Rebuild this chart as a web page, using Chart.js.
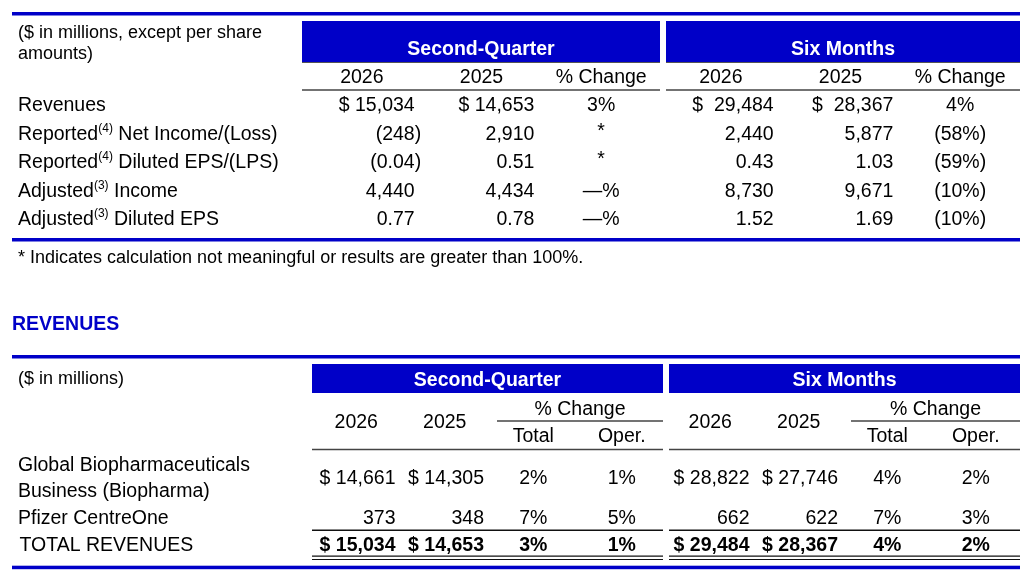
<!DOCTYPE html>
<html>
<head>
<meta charset="utf-8">
<script src="https://cdn.jsdelivr.net/npm/chart.js@4.4.1/dist/chart.umd.min.js"></script>
<style>
  html, body { margin: 0; padding: 0; background: #fff; }
  body { width: 1032px; height: 576px; position: relative; overflow: hidden; }
  .panel { position: absolute; left: 0; width: 1032px; }
  #summary-wrap { top: 0; height: 290px; }
  #revenue-wrap { top: 290px; height: 286px; }
</style>
</head>
<body>
<div class="panel" id="summary-wrap"><canvas id="summary"></canvas></div>
<div class="panel" id="revenue-wrap"><canvas id="revenues"></canvas></div>
<script>
// summary table
const summaryGroups = ["Second-Quarter", "Six Months"];
const summaryCols = ["2026", "2025", "% Change", "2026", "2025", "% Change"];
const summaryRows = [
  ["Revenues"],
  ["Reported", "(4)", " Net Income/(Loss)"],
  ["Reported", "(4)", " Diluted EPS/(LPS)"],
  ["Adjusted", "(3)", " Income"],
  ["Adjusted", "(3)", " Diluted EPS"]
];
const q2026 = ["$ 15,034", "(248)", "(0.04)", "4,440", "0.77"];
const q2025 = ["$ 14,653", "2,910", "0.51", "4,434", "0.78"];
const qChange = ["3%", "*", "*", "\u2014%", "\u2014%"];
const h2026 = ["$  29,484", "2,440", "0.43", "8,730", "1.52"];
const h2025 = ["$  28,367", "5,877", "1.03", "9,671", "1.69"];
const hChange = ["4%", "(58%)", "(59%)", "(10%)", "(10%)"];
const summaryNote = ["($ in millions, except per share", "amounts)"];
const footnote = "* Indicates calculation not meaningful or results are greater than 100%.";

// revenues table (a row takes as many lines as its label)
const revenueTitle = "REVENUES";
const revenueGroups = ["Second-Quarter", "Six Months"];
const revenueCols = ["2026", "2025", "Total", "Oper.", "2026", "2025", "Total", "Oper."];
const revenueRows = [
  ["Global Biopharmaceuticals", "Business (Biopharma)"],
  ["Pfizer CentreOne"],
  ["TOTAL REVENUES"]
];
const rq2026 = ["$ 14,661", "373", "$ 15,034"];
const rq2025 = ["$ 14,305", "348", "$ 14,653"];
const rqTotal = ["2%", "7%", "3%"];
const rqOper = ["1%", "5%", "1%"];
const rh2026 = ["$ 28,822", "662", "$ 29,484"];
const rh2025 = ["$ 27,746", "622", "$ 28,367"];
const rhTotal = ["4%", "7%", "4%"];
const rhOper = ["2%", "3%", "2%"];

const BLUE = "#0000c8";
const FAMILY = '"Liberation Sans", Arial, sans-serif';
const font = (size, bold) => (bold ? "bold " : "") + size + "px " + FAMILY;

function text(ctx, str, x, y, align, f, color) {
  ctx.font = f;
  ctx.fillStyle = color || "#000";
  ctx.textAlign = align;
  ctx.textBaseline = "middle";
  ctx.fillText(str, x, y + 2);
}

// numbers right aligned, a closing bracket hangs past the column edge
function number(ctx, str, x, y, f) {
  ctx.font = f;
  let hang = 0;
  if (str.endsWith(")")) hang = ctx.measureText(")").width;
  text(ctx, str, x + hang, y, "right", f);
}

function hline(ctx, x1, x2, y, w, color) {
  ctx.strokeStyle = color;
  ctx.lineWidth = w;
  ctx.beginPath();
  ctx.moveTo(x1, y);
  ctx.lineTo(x2, y);
  ctx.stroke();
}

function labelWithNote(ctx, parts, x, y) {
  text(ctx, parts[0], x, y, "left", font(19.5));
  if (parts.length < 2) return;
  let cx = x + ctx.measureText(parts[0]).width;
  text(ctx, parts[1], cx, y - 6, "left", font(12));
  cx += ctx.measureText(parts[1]).width;
  text(ctx, parts[2], cx, y, "left", font(19.5));
}

const summaryTable = {
  id: "summaryTable",
  afterDraw(chart) {
    const { ctx, scales: { x, y } } = chart;
    const band = x.width / summaryCols.length;
    const per = summaryCols.length / summaryGroups.length;
    const groups = summaryGroups.map((g, i) => ({
      left: x.left + i * per * band + (i ? 5 : 0),
      right: x.left + (i + 1) * per * band - (i ? 0 : 1)
    }));
    ctx.save();
    ctx.fillStyle = BLUE;
    ctx.fillRect(12, 12, 1008, 3.5);
    summaryNote.forEach((s, i) => text(ctx, s, 18, 31 + i * 21, "left", font(18)));
    groups.forEach((g, i) => {
      ctx.fillStyle = BLUE;
      ctx.fillRect(g.left, 21, g.right - g.left, 41);
      hline(ctx, g.left, g.right, 62.5, 1, "#555");
      text(ctx, summaryGroups[i], (g.left + g.right) / 2, 48, "center", font(19.5, true), "#fff");
      hline(ctx, g.left, g.right, 90, 1.5, "#444");
    });
    summaryCols.forEach((c, i) => text(ctx, c, x.getPixelForValue(i), 76, "center", font(19.5)));
    summaryRows.forEach((r, i) => labelWithNote(ctx, r, 18, y.getPixelForValue(i)));
    const cols = [q2026, q2025, qChange, h2026, h2025, hChange];
    cols.forEach((vals, c) => {
      const cx = x.getPixelForValue(c);
      vals.forEach((v, r) => {
        const cy = y.getPixelForValue(r);
        if (c % per === per - 1) {
          text(ctx, v, cx, v === "*" ? cy - 3 : cy, "center", font(19.5));
        } else {
          number(ctx, v, cx + band / 2 - 7, cy, font(19.5));
        }
      });
    });
    ctx.fillStyle = BLUE;
    ctx.fillRect(12, 238, 1008, 3.5);
    text(ctx, footnote, 18, 256, "left", font(18));
    ctx.restore();
  }
};

// index of the first label line of each revenue row
const rowStart = [];
revenueRows.reduce((n, r) => { rowStart.push(n); return n + r.length; }, 0);

const revenueTable = {
  id: "revenueTable",
  afterDraw(chart) {
    const { ctx, scales: { x, y } } = chart;
    const band = x.width / revenueCols.length;
    const per = revenueCols.length / revenueGroups.length;
    const groups = revenueGroups.map((g, i) => ({
      left: x.left + i * per * band + (i ? 3 : 0),
      right: x.left + (i + 1) * per * band - (i ? 0 : 3)
    }));
    ctx.save();
    text(ctx, revenueTitle, 12, 33, "left", font(19.5, true), BLUE);
    ctx.fillStyle = BLUE;
    ctx.fillRect(12, 65, 1008, 3.5);
    text(ctx, "($ in millions)", 18, 87, "left", font(18));
    groups.forEach((g, i) => {
      ctx.fillStyle = BLUE;
      ctx.fillRect(g.left, 74, g.right - g.left, 29);
      text(ctx, revenueGroups[i], (g.left + g.right) / 2, 89, "center", font(19.5, true), "#fff");
      const lineLeft = x.getPixelForValue(i * per + 2) - band / 2 + 8;
      text(ctx, "% Change", (lineLeft + g.right) / 2, 118, "center", font(19.5));
      hline(ctx, lineLeft, g.right, 131, 1.5, "#444");
      hline(ctx, g.left, g.right, 159.5, 1.5, "#444");
    });
    revenueCols.forEach((c, i) => {
      const cy = i % per < 2 ? 131 : 145;
      text(ctx, c, x.getPixelForValue(i), cy, "center", font(19.5));
    });
    // centre of a row spanning its label lines
    const rowY = r => (y.getPixelForValue(rowStart[r]) + y.getPixelForValue(rowStart[r] + revenueRows[r].length - 1)) / 2;
    const last = revenueRows.length - 1;
    revenueRows.forEach((r, i) => {
      r.forEach((line, k) => {
        text(ctx, line, i === last ? 19.5 : 18, y.getPixelForValue(rowStart[i] + k), "left", font(19.5));
      });
    });
    const cols = [rq2026, rq2025, rqTotal, rqOper, rh2026, rh2025, rhTotal, rhOper];
    cols.forEach((vals, c) => {
      const cx = x.getPixelForValue(c);
      vals.forEach((v, r) => {
        const cy = rowY(r);
        const f = font(19.5, r === last);
        if (c % per < 2) number(ctx, v, cx + band / 2 - 5, cy, f);
        else text(ctx, v, cx, cy, "center", f);
      });
    });
    const ty = rowY(last);
    const above = (rowY(last - 1) + ty) / 2;
    groups.forEach(g => {
      hline(ctx, g.left, g.right, above, 1.6, "#111");
      hline(ctx, g.left, g.right, ty + 12.5, 1.2, "#111");
      hline(ctx, g.left, g.right, ty + 15.8, 1.2, "#111");
    });
    ctx.fillStyle = BLUE;
    ctx.fillRect(12, ty + 22, 1008, 3.5);
    ctx.restore();
  }
};

function tableOptions(left, top, bottom) {
  return {
    responsive: true,
    maintainAspectRatio: false,
    animation: false,
    events: [],
    layout: { padding: { left: left, right: 12, top: top, bottom: bottom } },
    plugins: { legend: { display: false }, tooltip: { enabled: false } },
    scales: {}
  };
}

const summaryOptions = tableOptions(302, 89.75, 57.75);
summaryOptions.scales = {
  x: { type: "category", labels: summaryCols.map((c, i) => i + ":" + c), offset: true, display: false },
  y: { type: "category", labels: summaryRows.map(r => r.join("")), offset: true, display: false }
};

new Chart(document.getElementById("summary"), {
  type: "line",
  data: { datasets: [] },
  options: summaryOptions,
  plugins: [summaryTable]
});

const revenueOptions = tableOptions(312, 159.9, 18.9);
revenueOptions.scales = {
  x: { type: "category", labels: revenueCols.map((c, i) => i + ":" + c), offset: true, display: false },
  y: { type: "category", labels: revenueRows.flat(), offset: true, display: false }
};

new Chart(document.getElementById("revenues"), {
  type: "line",
  data: { datasets: [] },
  options: revenueOptions,
  plugins: [revenueTable]
});
</script>
</body>
</html>
